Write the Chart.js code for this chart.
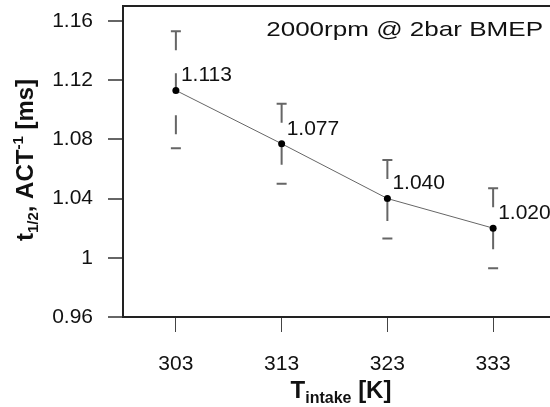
<!DOCTYPE html>
<html>
<head>
<meta charset="utf-8">
<script src="https://cdn.jsdelivr.net/npm/chart.js@4"></script>
<style>
  body { margin: 0; background: #fff; }
  #chart { display: block; }
</style>
</head>
<body>
<canvas id="chart" width="550" height="407"></canvas>
<script>
const temps = ['303', '313', '323', '333'];
const tHalf = [1.113, 1.077, 1.040, 1.020];
const errHigh = [1.153, 1.104, 1.066, 1.047];
const errLow = [1.074, 1.050, 1.013, 0.993];
const pointLabels = ['1.113', '1.077', '1.040', '1.020'];
const yTicks = [0.96, 1.00, 1.04, 1.08, 1.12, 1.16];
const yTickLabels = ['0.96', '1', '1.04', '1.08', '1.12', '1.16'];

const FONT = '"Liberation Sans", Arial, sans-serif';

// error bars: dashed stem with caps, drawn under the line
const errorBars = {
  id: 'errorBars',
  beforeDatasetsDraw(chart) {
    const { ctx, scales: { x, y } } = chart;
    ctx.save();
    ctx.strokeStyle = '#666';
    ctx.lineWidth = 2;
    temps.forEach((t, i) => {
      const px = x.getPixelForValue(i);
      const yHi = y.getPixelForValue(errHigh[i]);
      const yLo = y.getPixelForValue(errLow[i]);
      ctx.setLineDash([19, 23]);
      ctx.beginPath();
      ctx.moveTo(px, yHi);
      ctx.lineTo(px, yLo);
      ctx.stroke();
      ctx.setLineDash([]);
      ctx.beginPath();
      ctx.moveTo(px - 5, yHi); ctx.lineTo(px + 5, yHi);
      ctx.moveTo(px - 5, yLo); ctx.lineTo(px + 5, yLo);
      ctx.stroke();
    });
    ctx.restore();
  }
};

const decorations = {
  id: 'decorations',
  afterDraw(chart) {
    const { ctx, chartArea: a, scales: { x, y } } = chart;
    ctx.save();
    // top frame line + bottom line carried to the edge
    ctx.strokeStyle = '#222';
    ctx.lineWidth = 2;
    ctx.beginPath();
    ctx.moveTo(a.left - 1, a.top);
    ctx.lineTo(chart.width, a.top);
    ctx.moveTo(a.right, a.bottom);
    ctx.lineTo(chart.width, a.bottom);
    ctx.stroke();

    // point value labels
    ctx.fillStyle = '#111';
    ctx.font = '21px ' + FONT;
    ctx.textAlign = 'left';
    ctx.textBaseline = 'middle';
    tHalf.forEach((v, i) => {
      ctx.fillText(pointLabels[i], x.getPixelForValue(i) + 5, y.getPixelForValue(v) - 15);
    });

    // annotation top right, slightly wide lettering
    ctx.save();
    ctx.translate(543, 30);
    ctx.scale(1.24, 1);
    ctx.font = '21px ' + FONT;
    ctx.textAlign = 'right';
    ctx.fillText('2000rpm @ 2bar BMEP', 0, 0);
    ctx.restore();

    ctx.textBaseline = 'alphabetic';
    // y axis title with sub/superscript
    const yParts = [
      ['t', 'bold 24px', 0],
      ['1/2', 'bold 15px', 5],
      [', ACT', 'bold 24px', 0],
      ['-1', 'bold 15px', -10],
      [' [ms]', 'bold 24px', 0]
    ];
    drawParts(ctx, yParts, 33, 160, -Math.PI / 2);

    // x axis title
    const xParts = [
      ['T', 'bold 24px', 0],
      ['intake', 'bold 16px', 5],
      [' [K]', 'bold 24px', 0]
    ];
    drawParts(ctx, xParts, 341, 398, 0);
    ctx.restore();
  }
};

function drawParts(ctx, parts, cx, cy, rot) {
  let total = 0;
  parts.forEach(p => { ctx.font = p[1] + ' ' + FONT; total += ctx.measureText(p[0]).width; });
  ctx.save();
  ctx.translate(cx, cy);
  ctx.rotate(rot);
  ctx.textAlign = 'left';
  let pos = -total / 2;
  parts.forEach(p => {
    ctx.font = p[1] + ' ' + FONT;
    ctx.fillText(p[0], pos, p[2]);
    pos += ctx.measureText(p[0]).width;
  });
  ctx.restore();
}

new Chart(document.getElementById('chart'), {
  type: 'line',
  data: {
    labels: temps,
    datasets: [{
      data: tHalf,
      borderColor: '#666',
      borderWidth: 1,
      pointRadius: 3.5,
      pointBackgroundColor: '#000',
      pointBorderColor: '#000',
      pointBorderWidth: 0,
      tension: 0
    }]
  },
  options: {
    responsive: false,
    animation: false,
    devicePixelRatio: 1,
    layout: { padding: { top: 6, right: 3, left: 0, bottom: 0 } },
    plugins: { legend: { display: false }, tooltip: { enabled: false } },
    scales: {
      x: {
        type: 'category',
        offset: true,
        afterFit: s => { s.height = 90; s.paddingLeft = 0; s.paddingRight = 0; },
        grid: { drawOnChartArea: false, tickLength: 15, color: '#444', lineWidth: 1 },
        border: { display: true, color: '#222', width: 2 },
        ticks: { color: '#111', font: { family: FONT, size: 21 }, padding: 20, maxRotation: 0 }
      },
      y: {
        min: 0.96,
        max: 1.17,
        afterFit: s => { s.width = 123; s.paddingTop = 0; s.paddingBottom = 0; },
        afterBuildTicks: s => { s.ticks = yTicks.map(v => ({ value: v })); },
        grid: { drawOnChartArea: false, tickLength: 15, color: '#666', lineWidth: 2 },
        border: { display: true, color: '#222', width: 2 },
        ticks: {
          color: '#111',
          font: { family: FONT, size: 21 },
          padding: 15,
          callback: (v) => {
            const i = yTicks.findIndex(t => Math.abs(t - v) < 1e-6);
            return i >= 0 ? yTickLabels[i] : '';
          }
        }
      }
    }
  },
  plugins: [errorBars, decorations]
});
</script>
</body>
</html>
